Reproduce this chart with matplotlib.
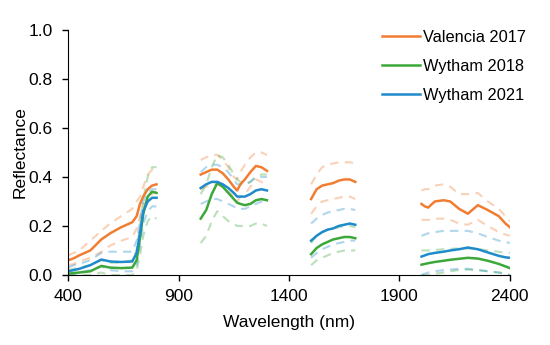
import numpy as np
import matplotlib
matplotlib.use("Agg")
import matplotlib.pyplot as plt

plt.rcParams['font.family'] = ['Liberation Sans', 'DejaVu Sans']

# wavelength grid of each measured band (nm)
wl = [
    [400, 425, 450, 500, 550, 590, 640, 690, 710, 725, 740, 760, 780, 800],
    [1000, 1025, 1050, 1075, 1100, 1125, 1150, 1165, 1180, 1200, 1225, 1250, 1275, 1300],
    [1500, 1525, 1550, 1575, 1600, 1625, 1650, 1675, 1700],
    [2000, 2015, 2030, 2060, 2100, 2130, 2170, 2210, 2255, 2300, 2350, 2380, 2400],
]

valencia_mean = [
    [0.06, 0.068, 0.08, 0.10, 0.145, 0.17, 0.195, 0.215, 0.24, 0.29, 0.32, 0.35, 0.365, 0.37],
    [0.41, 0.42, 0.43, 0.43, 0.415, 0.39, 0.36, 0.345, 0.37, 0.39, 0.42, 0.445, 0.44, 0.425],
    [0.31, 0.35, 0.365, 0.37, 0.375, 0.385, 0.39, 0.39, 0.38],
    [0.29, 0.28, 0.275, 0.30, 0.305, 0.30, 0.27, 0.25, 0.285, 0.265, 0.24, 0.21, 0.195],
]
valencia_hi = [
    [0.08, 0.09, 0.10, 0.14, 0.18, 0.21, 0.24, 0.27, 0.30, 0.32, 0.36, 0.41, 0.43, 0.44],
    [0.47, 0.48, 0.49, 0.49, 0.47, 0.44, 0.40, 0.39, 0.42, 0.45, 0.48, 0.50, 0.50, 0.49],
    [0.37, 0.41, 0.44, 0.45, 0.455, 0.46, 0.46, 0.46, 0.455],
    [0.345, 0.35, 0.35, 0.365, 0.37, 0.36, 0.33, 0.33, 0.335, 0.30, 0.27, 0.24, 0.22],
]
valencia_lo = [
    [0.04, 0.045, 0.055, 0.07, 0.095, 0.12, 0.14, 0.155, 0.19, 0.24, 0.28, 0.31, 0.33, 0.34],
    [0.35, 0.36, 0.37, 0.37, 0.36, 0.34, 0.32, 0.30, 0.32, 0.33, 0.36, 0.39, 0.38, 0.36],
    [0.25, 0.28, 0.30, 0.305, 0.31, 0.315, 0.32, 0.32, 0.31],
    [0.225, 0.225, 0.225, 0.23, 0.23, 0.225, 0.21, 0.205, 0.225, 0.20, 0.175, 0.165, 0.16],
]

w2018_mean = [
    [0.005, 0.008, 0.01, 0.015, 0.037, 0.03, 0.028, 0.03, 0.06, 0.15, 0.25, 0.32, 0.34, 0.335],
    [0.23, 0.265, 0.33, 0.375, 0.36, 0.335, 0.31, 0.295, 0.29, 0.285, 0.29, 0.305, 0.31, 0.305],
    [0.085, 0.11, 0.125, 0.135, 0.145, 0.15, 0.155, 0.155, 0.15],
    [0.042, 0.045, 0.048, 0.053, 0.058, 0.062, 0.066, 0.07, 0.067, 0.058, 0.045, 0.035, 0.028],
]
w2018_hi = [
    [0.02, 0.025, 0.03, 0.04, 0.06, 0.05, 0.05, 0.06, 0.10, 0.20, 0.31, 0.40, 0.44, 0.44],
    [0.33, 0.37, 0.44, 0.49, 0.48, 0.45, 0.41, 0.39, 0.38, 0.37, 0.38, 0.40, 0.41, 0.41],
    [0.13, 0.16, 0.175, 0.185, 0.19, 0.195, 0.20, 0.20, 0.195],
    [0.10, 0.10, 0.10, 0.102, 0.105, 0.107, 0.108, 0.108, 0.106, 0.10, 0.095, 0.09, 0.09],
]
w2018_lo = [
    [0.0, 0.0, 0.0, 0.0, 0.01, 0.0, 0.0, 0.0, 0.02, 0.08, 0.16, 0.22, 0.24, 0.23],
    [0.13, 0.16, 0.22, 0.26, 0.24, 0.22, 0.21, 0.20, 0.20, 0.20, 0.20, 0.21, 0.21, 0.20],
    [0.04, 0.06, 0.07, 0.08, 0.09, 0.095, 0.10, 0.10, 0.10],
    [0.0, 0.0, 0.0, 0.005, 0.01, 0.015, 0.02, 0.022, 0.02, 0.015, 0.01, 0.005, 0.0],
]

w2021_mean = [
    [0.015, 0.02, 0.025, 0.04, 0.063, 0.055, 0.053, 0.055, 0.09, 0.17, 0.26, 0.30, 0.315, 0.315],
    [0.355, 0.37, 0.38, 0.38, 0.37, 0.355, 0.335, 0.32, 0.32, 0.32, 0.33, 0.345, 0.35, 0.345],
    [0.14, 0.16, 0.175, 0.185, 0.19, 0.20, 0.205, 0.21, 0.205],
    [0.075, 0.08, 0.085, 0.09, 0.095, 0.10, 0.105, 0.112, 0.105, 0.092, 0.078, 0.072, 0.07],
]
w2021_hi = [
    [0.03, 0.04, 0.045, 0.06, 0.09, 0.095, 0.095, 0.095, 0.14, 0.22, 0.30, 0.34, 0.35, 0.35],
    [0.42, 0.44, 0.45, 0.45, 0.44, 0.42, 0.39, 0.37, 0.37, 0.37, 0.38, 0.40, 0.40, 0.40],
    [0.21, 0.23, 0.245, 0.255, 0.26, 0.265, 0.27, 0.27, 0.265],
    [0.16, 0.165, 0.17, 0.175, 0.18, 0.18, 0.18, 0.18, 0.17, 0.155, 0.14, 0.135, 0.13],
]
w2021_lo = [
    [0.0, 0.005, 0.01, 0.02, 0.035, 0.02, 0.015, 0.015, 0.04, 0.12, 0.21, 0.26, 0.28, 0.28],
    [0.29, 0.30, 0.31, 0.31, 0.30, 0.29, 0.28, 0.27, 0.27, 0.27, 0.28, 0.29, 0.30, 0.29],
    [0.07, 0.09, 0.105, 0.115, 0.125, 0.13, 0.135, 0.14, 0.14],
    [0.0, 0.005, 0.01, 0.015, 0.02, 0.022, 0.025, 0.025, 0.02, 0.015, 0.01, 0.005, 0.0],
]

labels = ['Valencia 2017', 'Wytham 2018', 'Wytham 2021']
colors = ['#F07D32', '#3DA83A', '#1F8BCB']


def join(segs):
    # put a NaN between bands so the line breaks at the absorption gaps
    out = []
    for s in segs:
        out += list(s) + [np.nan]
    return np.array(out[:-1], dtype=float)


x = join(wl)

fig = plt.figure(figsize=(5.5, 3.45), dpi=100)
ax = fig.add_axes([0.124, 0.203, 0.803, 0.71])

series = [(valencia_mean, valencia_hi, valencia_lo),
          (w2018_mean, w2018_hi, w2018_lo),
          (w2021_mean, w2021_hi, w2021_lo)]

for (m, hi, lo), c, lab in zip(series, colors, labels):
    ax.plot(x, join(hi), color=c, lw=1.5, alpha=0.35, ls=(0, (4, 3)))
    ax.plot(x, join(lo), color=c, lw=1.5, alpha=0.35, ls=(0, (4, 3)))
for (m, hi, lo), c, lab in zip(series, colors, labels):
    ax.plot(x, join(m), color=c, lw=1.8, label=lab)

fs = 12.5
ax.set_xlim(400, 2400)
ax.set_ylim(0, 1.0)
ax.set_xticks([400, 900, 1400, 1900, 2400])
ax.set_yticks([0.0, 0.2, 0.4, 0.6, 0.8, 1.0])
ax.set_yticklabels(['0.0', '0.2', '0.4', '0.6', '0.8', '1.0'])
ax.tick_params(labelsize=fs, direction='out', length=4, width=1, colors='black')
ax.tick_params(axis='x', pad=6)
ax.tick_params(axis='y', pad=7)
ax.spines['top'].set_visible(False)
ax.spines['right'].set_visible(False)
ax.set_xlabel('Wavelength (nm)', fontsize=fs, labelpad=8)
ax.set_ylabel('Reflectance', fontsize=fs, labelpad=1)

ax.legend(loc='upper right', bbox_to_anchor=(1.07, 1.06), frameon=False,
          fontsize=11.8, handlelength=2.3, handletextpad=0.2, labelspacing=0.85)

fig.savefig('out.png', dpi=100)
